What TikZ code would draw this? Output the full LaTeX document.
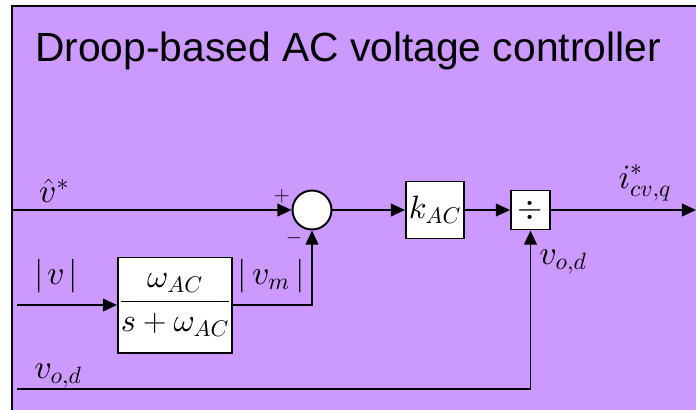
\RequirePackage{fix-cm}
\documentclass[tikz,border=0pt]{standalone}
\usepackage{amsmath}
\usepackage{fontspec}
\newfontfamily\titlefont{Liberation Sans}
\usepackage{tikz}
\usetikzlibrary{arrows.meta, positioning, calc}

% scalable math fonts for the large labels
\DeclareFontShape{OML}{cmm}{m}{it}{<-7>cmmi5<7-10>cmmi7<10->cmmi10}{\skewchar\font'177}
\DeclareFontShape{OMS}{cmsy}{m}{n}{<-7>cmsy5<7-10>cmsy7<10->cmsy10}{\skewchar\font'60}

\definecolor{ctrlpurple}{RGB}{204,153,255}

\tikzset{
	blk/.style={draw, fill=white, line width=1.4pt, inner sep=0pt, font=\fontsize{23}{27}\selectfont},
	sig/.style={line width=1.4pt, -{Triangle[length=10pt, width=9pt]}},
	lbl/.style={inner sep=0pt, font=\fontsize{24}{28}\selectfont},
	sgn/.style={inner sep=0pt, font=\fontsize{15}{17}\selectfont},
}

\begin{document}
\begin{tikzpicture}[x=0.025cm, y=-0.025cm]
		% Canvas and background panel
		\useasboundingbox (0,0) rectangle (696,409);
		\clip (0,0) rectangle (696,409);
		\draw[fill=ctrlpurple, line width=1.4pt] (12,6) rectangle (720,430);
		
		% Title
		\node[anchor=base, font=\titlefont\fontsize{29}{34}\selectfont] (title) at (348,61) {Droop-based AC voltage controller};
		
		% Free ends of the signals
		\coordinate (inref) at (12,210);
		\coordinate (inabs) at (17,305);
		\coordinate (invod) at (17,389);
		\coordinate (out) at (696,210);
		
		% Blocks
		\node[blk, circle, minimum size=0.975cm] (sum) at (312,210) {};
		\node[blk, minimum width=2.85cm, minimum height=2.375cm] (lpf) at (175,305) {$\dfrac{\omega_{AC}}{s+\omega_{AC}}$};
		\node[blk, minimum width=1.45cm, minimum height=1.425cm] (kac) at (435,210) {$k_{AC}$};
		\node[blk, minimum size=0.975cm] (div) at (530.5,210) {$\div$};
		
		% Signals
		\draw[sig] (inref) -- (sum.west);
		\draw[sig] (sum.east) -- (kac.west);
		\draw[sig] (kac.east) -- (div.west);
		\draw[sig] (div.east) -- (out);
		\draw[sig] (inabs) -- (lpf.west);
		\draw[sig] (lpf.east) -| (sum.south);
		\draw[sig] (invod) -| (div.south);
		
		% Labels
		\node[lbl] (vref) at (54,191) {$\hat{v}^{*}$};
		\node[lbl] (vabs) at (56,276) {$|\mkern2mu v\mkern2mu|$};
		\node[lbl] (vodin) at (58,376) {$v_{o,d}$};
		\node[lbl] (vm) at (271,276) {$|\,v_m\,|$};
		\node[lbl] (vodfb) at (563,262) {$v_{o,d}$};
		\node[lbl] (icv) at (645,183) {$i_{cv,q}^{*}$};
		\node[sgn] (plus) at (282,196) {$+$};
		\node[sgn] (minus) at (294,238) {$-$};
	\end{tikzpicture}
\end{document}
